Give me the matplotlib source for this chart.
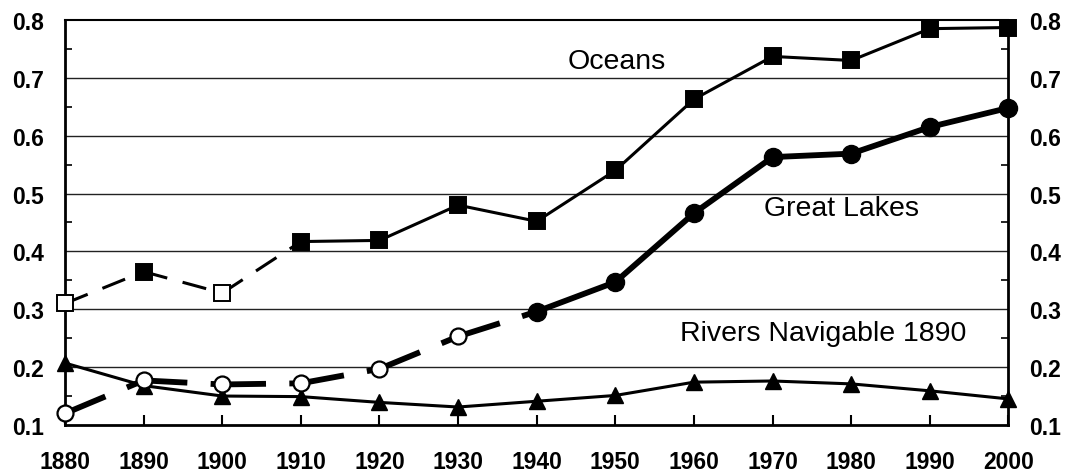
import matplotlib
matplotlib.use("Agg")
from matplotlib import pyplot as plt
from matplotlib.ticker import MultipleLocator, FormatStrFormatter

plt.rcParams['font.family'] = ['Liberation Sans', 'DejaVu Sans']

years = [1880, 1890, 1900, 1910, 1920, 1930, 1940, 1950, 1960, 1970, 1980, 1990, 2000]
oceans = [0.310, 0.365, 0.328, 0.417, 0.419, 0.480, 0.452, 0.540, 0.663, 0.737, 0.730, 0.785, 0.787]
oceans_open = [True, False, True, False, False, False, False, False, False, False, False, False, False]
great_lakes = [0.120, 0.177, 0.170, 0.172, 0.197, 0.253, 0.296, 0.347, 0.466, 0.563, 0.569, 0.615, 0.648]
lakes_open = [True, True, True, True, True, True, False, False, False, False, False, False, False]
rivers = [0.207, 0.168, 0.150, 0.149, 0.139, 0.131, 0.141, 0.151, 0.174, 0.176, 0.171, 0.159, 0.145]

oceans_dash_end = 3   # dashed up to 1910
lakes_dash_end = 6    # dashed up to 1940


def draw_series(ax, xs, ys, dash_end, lw, dashes):
    # dashed part: one line per segment so the pattern restarts at every point
    for i in range(dash_end):
        ax.plot(xs[i:i + 2], ys[i:i + 2], color='black', lw=lw, dashes=dashes,
                solid_capstyle='butt', dash_capstyle='butt', zorder=3)
    ax.plot(xs[dash_end:], ys[dash_end:], color='black', lw=lw, zorder=3)


fig = plt.figure(figsize=(10.66, 4.77), dpi=100)
ax = fig.add_axes([0.061, 0.107, 0.885, 0.849])

# grid lines
for y in [0.2, 0.3, 0.4, 0.5, 0.6, 0.7]:
    ax.axhline(y, color='#222222', lw=1.0, zorder=1)

# rivers
ax.plot(years, rivers, color='black', lw=2.2, marker='^', ms=12, mfc='black',
        mec='black', clip_on=False, zorder=3)

# oceans
draw_series(ax, years, oceans, oceans_dash_end, 2.2, (8.0, 5.2))
for x, y, o in zip(years, oceans, oceans_open):
    ax.plot(x, y, marker='s', ms=11, mfc='white' if o else 'black', mec='black',
            mew=1.4, clip_on=False, zorder=4)

# great lakes
draw_series(ax, years, great_lakes, lakes_dash_end, 4.2, (7.5, 4.0))
for x, y, o in zip(years, great_lakes, lakes_open):
    if o:
        ax.plot(x, y, marker='o', ms=11.5, mfc='white', mec='black', mew=1.6,
                clip_on=False, zorder=4)
    else:
        ax.plot(x, y, marker='o', ms=13, mfc='black', mec='black', mew=1,
                clip_on=False, zorder=4)

ax.text(1950.2, 0.717, 'Oceans', fontsize=20.5, ha='center', va='baseline')
ax.text(1978.8, 0.463, 'Great Lakes', fontsize=20.5, ha='center', va='baseline')
ax.text(1976.4, 0.247, 'Rivers Navigable 1890', fontsize=20.5, ha='center', va='baseline')

ax.set_xlim(1880, 2000)
ax.set_ylim(0.1, 0.8)
ax.set_xticks(years)
ax.set_yticks([0.1, 0.2, 0.3, 0.4, 0.5, 0.6, 0.7, 0.8])
ax.yaxis.set_minor_locator(MultipleLocator(0.05))
ax.yaxis.set_major_formatter(FormatStrFormatter('%.1f'))
ax.tick_params(axis='x', direction='in', length=7, width=1.5, pad=18, labelsize=16.5)
ax.tick_params(axis='y', which='major', direction='in', length=0, pad=15, labelsize=16.5,
               right=True, labelright=True)
ax.tick_params(axis='y', which='minor', direction='in', length=5, width=1.2, right=True)
for t in ax.xaxis.get_major_ticks():
    t.label1.set_fontweight('bold')
for t in ax.yaxis.get_major_ticks():
    t.label1.set_fontweight('bold')
    t.label2.set_fontweight('bold')

for s in ['left', 'right', 'bottom']:
    ax.spines[s].set_linewidth(2)
ax.spines['top'].set_linewidth(1.5)

fig.savefig('out.png', dpi=100)
